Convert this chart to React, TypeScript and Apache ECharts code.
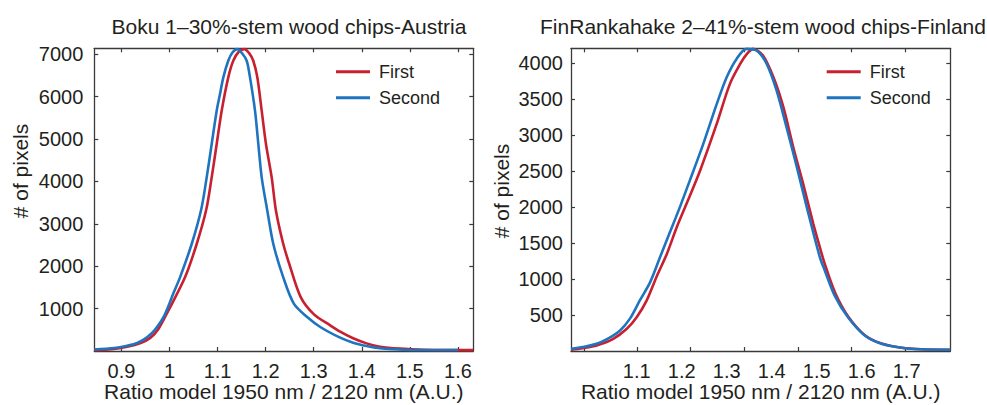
import React, { useEffect, useRef } from 'react';
import * as echarts from 'echarts';

// ---------- Data ----------
const leftTitle = 'Boku 1–30%-stem wood chips-Austria';
const rightTitle = 'FinRankahake 2–41%-stem wood chips-Finland';
const xAxisTitle = 'Ratio model 1950 nm / 2120 nm (A.U.)';
const yAxisTitle = '# of pixels';
const seriesNames = ['First', 'Second'];

const leftXRange = [0.8436, 1.632];
const leftYRange = [0, 7140];
const leftXLabels = [0.9, 1, 1.1, 1.2, 1.3, 1.4, 1.5, 1.6];
const leftXTicks = [0.9, 1, 1.1, 1.2, 1.3, 1.4, 1.5, 1.6];
const leftYLabels = [1000, 2000, 3000, 4000, 5000, 6000, 7000];

const rightXRange = [0.954, 1.797];
const rightYRange = [0, 4208];
const rightXLabels = [1.1, 1.2, 1.3, 1.4, 1.5, 1.6, 1.7];
const rightXTicks = [0.983, 1.101, 1.22, 1.339, 1.458, 1.576, 1.696];
const rightYLabels = [500, 1000, 1500, 2000, 2500, 3000, 3500, 4000];

const leftFirst: number[][] = [
  [0.8436, 20], [0.88, 40], [0.912, 100], [0.94, 190], [0.96, 310], [0.977, 520],
  [0.9976, 951], [1.0323, 1737], [1.0566, 2524], [1.0764, 3330], [1.0878, 4096],
  [1.0982, 4882], [1.1086, 5668], [1.1223, 6455], [1.1327, 6847], [1.145, 7070],
  [1.156, 7120], [1.166, 7020], [1.1743, 6847], [1.1827, 6455], [1.1918, 5668],
  [1.2007, 4882], [1.2126, 4096], [1.2215, 3310], [1.2367, 2524], [1.2492, 2052],
  [1.273, 1270], [1.3, 870], [1.335, 600], [1.355, 455], [1.382, 300], [1.41, 180],
  [1.438, 100], [1.48, 55], [1.53, 30], [1.632, 20],
];
const leftSecond: number[][] = [
  [0.8436, 35], [0.885, 70], [0.912, 125], [0.933, 190], [0.954, 330], [0.971, 520],
  [0.989, 830], [1.009, 1384], [1.0219, 1737], [1.0462, 2524], [1.0662, 3350],
  [1.0774, 4096], [1.0878, 4882], [1.0982, 5668], [1.1051, 6061], [1.112, 6455],
  [1.1223, 6847], [1.131, 7040], [1.141, 7120], [1.1506, 7030], [1.1606, 6847],
  [1.1675, 6455], [1.1779, 5668], [1.1848, 4882], [1.1918, 4096], [1.2035, 3310],
  [1.216, 2524], [1.2367, 1737], [1.259, 1110], [1.287, 795], [1.3145, 560], [1.355, 314],
  [1.382, 196], [1.41, 118], [1.438, 63], [1.466, 40], [1.5, 25], [1.6, 22],
];

const rightFirst: number[][] = [
  [0.954, 18], [0.98, 40], [1.011, 78], [1.048, 170], [1.078, 310], [1.1, 470],
  [1.122, 700], [1.144, 1030], [1.167, 1350], [1.189, 1720], [1.211, 2050], [1.241, 2510],
  [1.278, 3160], [1.307, 3710], [1.33, 3990], [1.345, 4130], [1.359, 4200], [1.381, 4106],
  [1.404, 3805], [1.426, 3390], [1.448, 2833], [1.47, 2324], [1.4925, 1768], [1.507, 1444],
  [1.518, 1210], [1.541, 810], [1.57, 480], [1.607, 220], [1.644, 105], [1.689, 46],
  [1.733, 25], [1.797, 18],
];
const rightSecond: number[][] = [
  [0.954, 32], [0.981, 55], [1.011, 100], [1.033, 160], [1.063, 286], [1.085, 450],
  [1.107, 703], [1.13, 958], [1.152, 1306], [1.174, 1653], [1.196, 2000], [1.218, 2369],
  [1.248, 2879], [1.278, 3435], [1.3, 3805], [1.322, 4060], [1.344, 4200], [1.367, 4175],
  [1.389, 3990], [1.411, 3619], [1.433, 3111], [1.456, 2556], [1.478, 2000], [1.507, 1306],
  [1.518, 1120], [1.54, 770], [1.57, 465], [1.607, 215], [1.644, 100], [1.689, 45],
  [1.733, 24], [1.797, 18],
];

// ---------- Styles ----------
const FONT = 'Liberation Sans, Arial, Helvetica, sans-serif';
const TEXT = '#231f20';
const AXIS = '#3a3a3a';
const RED = '#c8202f';
const BLUE = '#1f74c0';

const fmt = (v: number) => String(Math.round(v * 1000) / 1000);

function xAxes(grid: number, range: number[], labels: number[], ticks: number[]) {
  const common = {
    type: 'value',
    gridIndex: grid,
    min: range[0],
    max: range[1],
    splitLine: { show: false },
    axisLine: { show: true, onZero: false, lineStyle: { color: AXIS, width: 1.3 } },
    axisTick: { show: true, inside: true, length: 4, customValues: ticks, lineStyle: { color: AXIS, width: 1.2 } },
  };
  return [
    {
      ...common,
      position: 'bottom',
      name: xAxisTitle,
      nameLocation: 'middle',
      nameGap: 30,
      nameMoveOverlap: false,
      nameTextStyle: { fontFamily: FONT, fontSize: 21, color: TEXT },
      axisLabel: { show: true, customValues: labels, fontFamily: FONT, fontSize: 20, color: TEXT, margin: 10, formatter: fmt },
    },
    { ...common, position: 'top', axisLabel: { show: false } },
  ];
}

function yAxes(grid: number, range: number[], labels: number[], labelMargin: number) {
  const common = {
    type: 'value',
    gridIndex: grid,
    min: range[0],
    max: range[1],
    splitLine: { show: false },
    axisLine: { show: true, onZero: false, lineStyle: { color: AXIS, width: 1.3 } },
    axisTick: { show: true, inside: true, length: 4, customValues: labels, lineStyle: { color: AXIS, width: 1.2 } },
  };
  return [
    {
      ...common,
      position: 'left',
      axisLabel: { show: true, customValues: labels, fontFamily: FONT, fontSize: 20, color: TEXT, margin: labelMargin, formatter: fmt },
    },
    { ...common, position: 'right', axisLabel: { show: false } },
  ];
}

function line(name: string, data: number[][], grid: number, color: string) {
  return {
    type: 'line',
    name,
    data,
    xAxisIndex: grid * 2,
    yAxisIndex: grid * 2,
    showSymbol: false,
    smooth: 0.3,
    lineStyle: { color, width: 2.6 },
    itemStyle: { color },
    emphasis: { disabled: true },
  };
}

function legend(left: number) {
  return {
    left,
    top: 61.7,
    orient: 'vertical',
    padding: 0,
    data: seriesNames,
    icon: 'rect',
    itemWidth: 34,
    itemHeight: 3,
    itemGap: 6,
    selectedMode: false,
    textStyle: { fontFamily: FONT, fontSize: 18, color: TEXT, lineHeight: 20, padding: [0, 0, 0, 4] },
  };
}

function yTitle(x: number, y: number) {
  return {
    type: 'text',
    x,
    y,
    rotation: Math.PI / 2,
    style: {
      text: yAxisTitle,
      font: `21px ${FONT}`,
      fill: TEXT,
      textAlign: 'center',
      textVerticalAlign: 'middle',
    },
  };
}

export default function App() {
  const ref = useRef<HTMLDivElement>(null);
  useEffect(() => {
    if (!ref.current) return;
    const chart = echarts.init(ref.current, undefined, { renderer: 'svg' });
    const option = {
      animation: false,
      backgroundColor: '#ffffff',
      title: [
        { text: leftTitle, left: 284, top: 11, textAlign: 'center', textStyle: { fontFamily: FONT, fontSize: 21, fontWeight: 'normal', color: TEXT } },
        { text: rightTitle, left: 758, top: 11, textAlign: 'center', textStyle: { fontFamily: FONT, fontSize: 21, fontWeight: 'normal', color: TEXT } },
      ],
      legend: [legend(336), legend(826.7)],
      grid: [
        { left: 94.3, top: 48.3, width: 379, height: 302.7, containLabel: false, outerBoundsMode: 'none' },
        { left: 571, top: 48.3, width: 379.3, height: 302.7, containLabel: false, outerBoundsMode: 'none' },
      ],
      xAxis: [
        ...xAxes(0, leftXRange, leftXLabels, leftXTicks),
        ...xAxes(1, rightXRange, rightXLabels, rightXTicks),
      ],
      yAxis: [
        ...yAxes(0, leftYRange, leftYLabels, 11),
        ...yAxes(1, rightYRange, rightYLabels, 8),
      ],
      graphic: [yTitle(20, 171), yTitle(501, 191)],
      series: [
        line(seriesNames[0], leftFirst, 0, RED),
        line(seriesNames[1], leftSecond, 0, BLUE),
        line(seriesNames[0], rightFirst, 1, RED),
        line(seriesNames[1], rightSecond, 1, BLUE),
      ],
    };
    chart.setOption(option as any);
    return () => chart.dispose();
  }, []);
  return (
    <div
      ref={ref}
      style={{ position: 'absolute', left: 0, top: 0, width: 987, height: 405, background: '#fff' }}
    />
  );
}
